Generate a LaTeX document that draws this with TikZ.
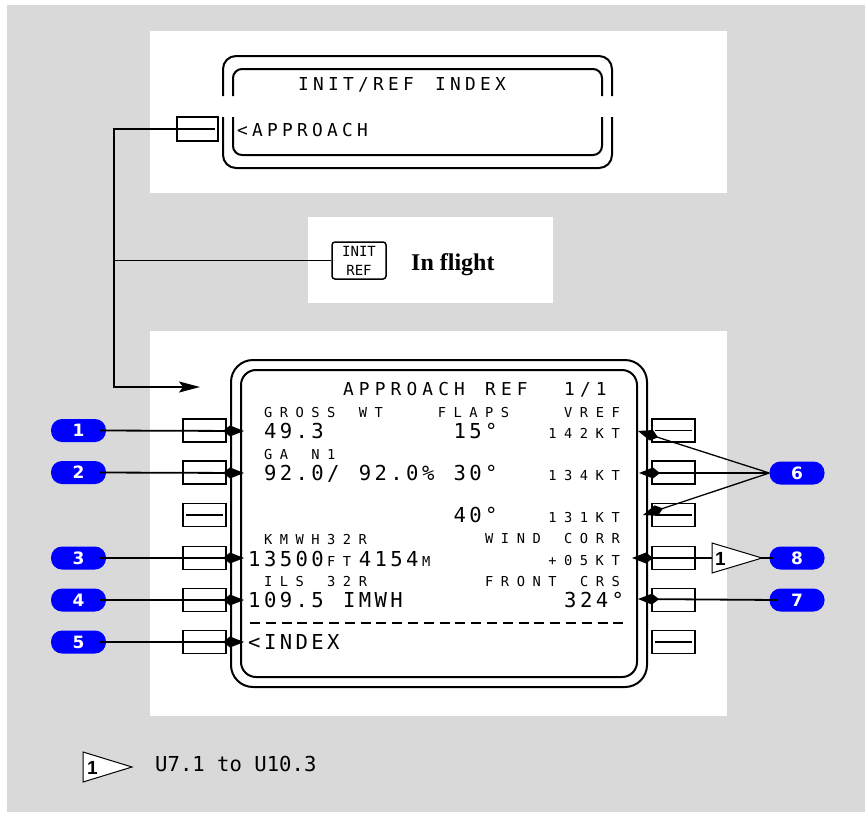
\documentclass[tikz,border=0pt]{standalone}
\usepackage{fontspec}
\setmainfont{Liberation Serif}
\newfontfamily\cdumono{DejaVu Sans Mono}
\newfontfamily\cdusmfont{DejaVu Sans Mono}[LetterSpace=55]
\newfontfamily\cdulgfont{DejaVu Sans Mono}[LetterSpace=16.5]
\newfontfamily\cdutlfont{DejaVu Sans Mono}[LetterSpace=29]
\newfontfamily\cdutopfont{DejaVu Sans Mono}[LetterSpace=24]
\newfontfamily\badgefont{DejaVu Sans}
\newfontfamily\flagfont{Liberation Sans}
\usepackage{tikz}
\definecolor{fmsgray}{RGB}{217,217,217}
\definecolor{fmsblue}{RGB}{0,0,255}
\usetikzlibrary{arrows.meta,positioning}

\begin{document}
\begin{tikzpicture}[x=1pt, y=-1pt,
  lskey/.style={draw, line width=1.8pt, minimum width=43pt, minimum height=23pt, inner sep=0pt},
  badge/.style={fill=fmsblue, rounded corners=11pt, minimum width=55pt, minimum height=23pt, inner sep=0pt,
    text=white, font=\badgefont\bfseries\fontsize{17}{17}\selectfont},
  callout/.style={line width=1.8pt, -{Kite[length=21pt,width=11pt,inset=7pt]}},
  scr/.style={line width=2pt},
  sm/.style={font=\cdusmfont\fontsize{13.7}{16}\selectfont, inner sep=0pt, anchor=base west},
  lg/.style={font=\cdulgfont\fontsize{20.6}{24}\selectfont, inner sep=0pt, anchor=base west},
  tl/.style={font=\cdutlfont\fontsize{17.8}{20}\selectfont, inner sep=0pt, anchor=base west},
  tp/.style={font=\cdutopfont\fontsize{17.8}{20}\selectfont, inner sep=0pt, anchor=base west}]
  \useasboundingbox (0,0) rectangle (865,812);
  %% background and white panels
  \fill[white] (0,0) rectangle (865,812);
  \fill[fmsgray] (7,5) rectangle (865,812);
  \fill[white] (150,31) rectangle (727,193);
  \fill[white] (308,217) rectangle (553,303);
  \fill[white] (150,331) rectangle (727,716);

  %% INIT/REF INDEX page (cut)
  \draw[scr, rounded corners=13pt] (223,96) -- (223,56) -- (612,56) -- (612,96);
  \draw[scr, rounded corners=13pt] (223,117) -- (223,168) -- (612,168) -- (612,117);
  \draw[scr, rounded corners=9pt] (233,96) -- (233,69) -- (602,69) -- (602,96);
  \draw[scr, rounded corners=9pt] (233,117) -- (233,155) -- (602,155) -- (602,117);
  \node[tp] (idxttl) at (298,90) {INIT/REF};
  \node[tp] (idxttl2) at (435,90) {INDEX};
  \node[tp] (idxapp) at (237,136) {<APPROACH};
  \node[lskey, minimum width=41pt, minimum height=24pt] (apk) at (197.5,129) {};

  %% INIT REF key
  \node[draw, rounded corners=3pt, line width=1.5pt, minimum width=54pt, minimum height=37pt, inner sep=0pt,
    align=center, font=\cdumono\fontsize{14}{19}\selectfont] (irk) at (359,260.5) {INIT\\REF};
  \node[anchor=base west, inner sep=0pt, font=\bfseries\fontsize{24}{24}\selectfont] (infl) at (411,270) {In flight};

  %% path to APPROACH REF page
  \coordinate (jtop) at (114,129);
  \coordinate (jmid) at (114,260.5);
  \coordinate (jbot) at (114,387);
  \coordinate (scrin) at (200,387);
  \draw[line width=1.8pt, -{Stealth[length=21pt,width=11pt,inset=4pt]}]
    ([xshift=17pt]apk.center) -- (jtop) -- (jbot) -- (scrin);
  \draw[line width=1.8pt] (jmid) -- (irk.west);

  %% APPROACH REF page
  \draw[scr, rounded corners=22pt] (231,360) rectangle (647,687);
  \draw[scr, rounded corners=15pt] (241,370) rectangle (637,677);

  \node[tl] (ttl) at (342.8,395) {APPROACH};
  \node[tl] (ttlref) at (485,395) {REF};
  \node[tl] (ttlpg) at (564,395) {1/1};

  \node[sm] (gwlbl) at (263.8,417) {GROSS};
  \node[sm] (gwlbl2) at (358.6,417) {WT};
  \node[sm] (flplbl) at (437.6,417) {FLAPS};
  \node[sm] (vrlbl) at (564,417) {VREF};
  \node[lg] (gwval) at (263.8,438) {49.3};
  \node[lg] (flp15) at (453.4,438) {15°};
  \node[sm] (vr15) at (548.2,438) {142KT};

  \node[sm] (galbl) at (263.8,459) {GA};
  \node[sm] (galbl2) at (311.2,459) {N1};
  \node[lg] (gaval) at (263.8,480) {92.0/};
  \node[lg] (gaval2) at (358.6,480) {92.0\%};
  \node[lg] (flp30) at (453.4,480) {30°};
  \node[sm] (vr30) at (548.2,480) {134KT};

  \node[lg] (flp40) at (453.4,522) {40°};
  \node[sm] (vr40) at (548.2,522) {131KT};

  \node[sm] (rwylbl) at (263.8,544) {KMWH32R};
  \node[sm] (wclbl) at (485,543) {WIND};
  \node[sm] (wclbl2) at (564,543) {CORR};
  \node[lg] (rwyft) at (248,566) {13500};
  \node[sm] (rwyftu) at (327,566) {FT};
  \node[lg] (rwym) at (358.6,566) {4154};
  \node[sm] (rwymu) at (421.8,566) {M};
  \node[sm] (wcval) at (548.2,565) {+05KT};

  \node[sm] (ilslbl) at (263.8,586) {ILS};
  \node[sm] (ilslbl2) at (327,586) {32R};
  \node[sm] (crslbl) at (485,586) {FRONT};
  \node[sm] (crslbl2) at (579.8,586) {CRS};
  \node[lg] (ilsval) at (248,607) {109.5};
  \node[lg] (ilsval2) at (342.8,607) {IMWH};
  \node[lg] (crsval) at (564,607) {324°};

  \draw[line width=1.5pt, dash pattern=on 10pt off 5.8pt] (250,623) -- (627,623);
  \node[lg] (idx) at (248,649) {<INDEX};

  %% line select keys
  \node[lskey] (lk1) at (204.5,430.5) {};
  \node[lskey] (lk2) at (204.5,472.5) {};
  \node[lskey] (lk3) at (204.5,515) {};
  \node[lskey] (lk4) at (204.5,558) {};
  \node[lskey] (lk5) at (204.5,600) {};
  \node[lskey] (lk6) at (204.5,642) {};
  \node[lskey] (rk1) at (673.5,430.5) {};
  \node[lskey] (rk2) at (673.5,472.5) {};
  \node[lskey] (rk3) at (673.5,515) {};
  \node[lskey] (rk4) at (673.5,558) {};
  \node[lskey] (rk5) at (673.5,600) {};
  \node[lskey] (rk6) at (673.5,642) {};
  \draw[line width=1.8pt] ([xshift=4pt]lk3.west) -- ([xshift=-4pt]lk3.east);
  \draw[line width=1.8pt] ([xshift=4pt]rk1.west) -- ([xshift=-4pt]rk1.east);
  \draw[line width=1.8pt] ([xshift=4pt]rk3.west) -- ([xshift=-4pt]rk3.east);
  \draw[line width=1.8pt] ([xshift=4pt]rk6.west) -- ([xshift=-4pt]rk6.east);

  %% callouts
  \coordinate (t1) at (244,431);
  \coordinate (t2) at (244,473);
  \coordinate (t3) at (244,558);
  \coordinate (t4) at (244,600);
  \coordinate (t5) at (244,642);
  \coordinate (t6a) at (638,431);
  \coordinate (t6b) at (639,473);
  \coordinate (t6c) at (643,515);
  \coordinate (t7) at (638,599);
  \coordinate (t8) at (632,558);

  \node[badge] (b1) at (78.5,430.5) {1};
  \node[badge] (b2) at (78.5,472.5) {2};
  \node[badge] (b3) at (78.5,558) {3};
  \node[badge] (b4) at (78.5,600) {4};
  \node[badge] (b5) at (78.5,642) {5};
  \node[badge] (b6) at (797,473) {6};
  \node[badge] (b7) at (797,600) {7};
  \node[badge] (b8) at (797,558) {8};

  \draw[callout] ([xshift=-6pt]b1.east) -- (t1);
  \draw[callout] ([xshift=-6pt]b2.east) -- (t2);
  \draw[callout] ([xshift=-6pt]b3.east) -- (t3);
  \draw[callout] ([xshift=-6pt]b4.east) -- (t4);
  \draw[callout] ([xshift=-6pt]b5.east) -- (t5);
  \draw[callout, line width=1.3pt] (b6.west) -- (t6a);
  \draw[callout] (b6.west) -- (t6b);
  \draw[callout, line width=1.3pt] (b6.west) -- (t6c);
  \draw[callout] ([xshift=8pt]b7.west) -- (t7);
  \draw[callout] ([xshift=4pt]b8.west) -- (t8);

  %% effectivity flag
  \coordinate (f8tip) at (762,558);
  \draw[line width=1pt, fill=white] (712,543) -- (f8tip) -- (712,573) -- cycle;
  \node[anchor=base west, inner sep=0pt, font=\flagfont\bfseries\fontsize{19}{19}\selectfont] (f8num) at (715,565) {1};

  %% note
  \coordinate (fntip) at (132,767);
  \draw[line width=1pt, fill=white] (83,752) -- (fntip) -- (83,782) -- cycle;
  \node[anchor=base west, inner sep=0pt, font=\flagfont\bfseries\fontsize{19}{19}\selectfont] (fnnum) at (87,774) {1};
  \node[anchor=base west, inner sep=0pt, font=\cdumono\fontsize{20.6}{24}\selectfont] (fntxt) at (155,771) {U7.1 to U10.3};
\end{tikzpicture}
\end{document}
